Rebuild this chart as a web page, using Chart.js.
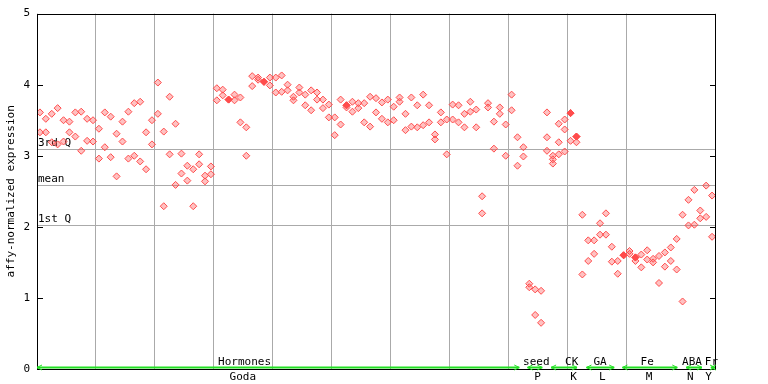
<!DOCTYPE html>
<html>
<head>
<meta charset="utf-8">
<script src="https://cdn.jsdelivr.net/npm/chart.js@4/dist/chart.umd.min.js"></script>
<style>
  html, body { margin: 0; padding: 0; background: #fff; }
  #wrap { width: 768px; height: 384px; }
</style>
</head>
<body>
<div id="wrap"><canvas id="expr" width="768" height="384"></canvas></div>
<script>
// values per sample column (replicates); rep3 only where a third point shows
const rep1 = [3.61, 3.52, 3.59, 3.67, 3.50, 3.48, 3.61, 3.62, 3.52, 3.50,
  3.38, 3.61, 3.55, 3.31, 3.48, 3.62, 3.74, 3.76, 3.33, 3.50,
  4.03, 3.34, 3.83, 3.45, 3.03, 2.86, 2.81, 3.02, 2.72, 2.85,
  3.95, 3.93, 3.79, 3.86, 3.82, 3.40, 4.12, 4.10, 4.04, 4.10,
  4.10, 4.13, 4.00, 3.83, 3.96, 3.86, 3.92, 3.89, 3.79, 3.72,
  3.54, 3.79, 3.71, 3.76, 3.74, 3.74, 3.83, 3.81, 3.75, 3.79,
  3.69, 3.82, 3.59, 3.82, 3.71, 3.86, 3.71, 3.30, 3.61, 3.51,
  3.72, 3.71, 3.59, 3.76, 3.65, 2.43, 3.74, 3.48, 3.68, 3.44,
  3.86, 3.26, 3.12, 1.20, 1.12, 1.10, 3.61, 3.00, 3.45, 3.51,
  3.60, 3.27, 2.17, 1.81, 1.81, 2.05, 2.19, 1.72, 1.52, 1.60,
  1.66, 1.57, 1.61, 1.67, 1.55, 1.59, 1.64, 1.71, 1.83, 2.17,
  2.38, 2.52, 2.23, 2.58, 2.44];
const rep2 = [3.33, 3.33, 3.19, 3.16, 3.20, 3.33, 3.27, 3.07, 3.21, 3.20,
  2.96, 3.12, 2.98, 2.71, 3.20, 2.96, 3.00, 2.92, 2.81, 3.16,
  3.59, 2.29, 3.02, 2.59, 2.75, 2.65, 2.29, 2.88, 2.64, 2.74,
  3.78, 3.85, 3.79, 3.78, 3.47, 3.00, 3.98, 4.07, 4.04, 3.99,
  3.89, 3.90, 3.92, 3.78, 3.89, 3.71, 3.64, 3.79, 3.67, 3.54,
  3.29, 3.44, 3.71, 3.62, 3.67, 3.47, 3.41, 3.61, 3.52, 3.47,
  3.50, 3.76, 3.36, 3.41, 3.40, 3.43, 3.47, 3.23, 3.47, 3.02,
  3.51, 3.47, 3.40, 3.62, 3.40, 2.19, 3.68, 3.10, 3.59, 3.00,
  3.64, 2.86, 2.99, 1.15, 0.76, 0.65, 3.26, 2.95, 3.19, 3.37,
  3.21, 3.19, 1.33, 1.52, 1.62, 1.89, 1.89, 1.51, 1.34, 1.60,
  1.62, 1.52, 1.43, 1.54, 1.50, 1.21, 1.44, 1.52, 1.40, 0.95,
  2.02, 2.03, 2.12, 2.14, 1.86];
const rep3 = { 52: 3.68, 86: 3.07, 87: 2.89, 88: 3.02, 89: 3.06, 90: 3.60, 91: 3.27, 101: 1.57 };

// reference lines
const refValues = [3.10, 2.585, 2.03];
const refLabels = ['3rd Q', 'mean', '1st Q'];

// experiment groups along the bottom (in sample column units)
const groupNames = ['Hormones', 'seed', 'CK', 'GA', 'Fe', 'ABA', 'Fr'];
const groupSubs = ['Goda', 'P', 'K', 'L', 'M', 'N', 'Y'];
const groupFrom = [0, 83.2, 87.2, 93.2, 99.3, 110.1, 114.3];
const groupTo = [81.8, 85.7, 91.6, 97.9, 108.6, 112.8, 115];
const groupNameAt = [35.2, 84.7, 90.7, 95.5, 103.5, 111.1, 114.4];
const groupSubAt = [34.9, 84.9, 91.0, 95.9, 103.8, 110.8, 113.9];

const nCols = rep1.length;
const points = [];
for (let i = 0; i < nCols; i++) {
  points.push({ x: i + 0.5, y: rep1[i] });
  points.push({ x: i + 0.5, y: rep2[i] });
  if (rep3[i] !== undefined) points.push({ x: i + 0.5, y: rep3[i] });
}

const FONT = '11px "DejaVu Sans Mono"';
const RED = '#ff4c4c';

// two replicates on the same spot look solid in the original
function isDouble(p) {
  return points.filter(q => q.x === p.x && q.y === p.y).length > 1;
}

const decor = {
  id: 'decor',
  beforeDatasetsDraw(chart) {
    const { ctx, chartArea: a, scales: { y } } = chart;
    ctx.save();
    ctx.strokeStyle = '#aaaaaa';
    ctx.lineWidth = 1;
    ctx.font = FONT;
    ctx.fillStyle = '#000';
    ctx.textBaseline = 'bottom';
    refValues.forEach((v, i) => {
      const py = Math.round(y.getPixelForValue(v)) + 0.5;
      ctx.beginPath();
      ctx.moveTo(a.left, py);
      ctx.lineTo(a.right, py);
      ctx.stroke();
      ctx.fillText(refLabels[i], a.left + 1, py - 1);
    });
    ctx.restore();
  },
  afterDraw(chart) {
    const { ctx, chartArea: a, scales: { x, y } } = chart;
    ctx.save();
    // frame
    ctx.strokeStyle = '#000';
    ctx.lineWidth = 1;
    ctx.strokeRect(Math.round(a.left) + 0.5, Math.round(a.top) + 0.5,
      Math.round(a.right - a.left), Math.round(a.bottom - a.top));
    // inward ticks on both sides
    for (let v = 0; v <= 5; v++) {
      const py = Math.round(y.getPixelForValue(v)) + 0.5;
      ctx.beginPath();
      ctx.moveTo(a.left, py); ctx.lineTo(a.left + 6, py);
      ctx.moveTo(a.right, py); ctx.lineTo(a.right - 5, py);
      ctx.stroke();
    }
    // y title
    ctx.fillStyle = '#000';
    ctx.font = FONT;
    ctx.translate(11, (a.top + a.bottom) / 2);
    ctx.rotate(-Math.PI / 2);
    ctx.textAlign = 'center';
    ctx.textBaseline = 'middle';
    ctx.fillText('affy-normalized expression', 0, 0);
    ctx.setTransform(1, 0, 0, 1, 0, 0);

    // groups: green double arrows with labels above and below
    const gy = Math.round(a.bottom) - 1.5;
    groupNames.forEach((name, i) => {
      const x0 = x.getPixelForValue(groupFrom[i]);
      const x1 = x.getPixelForValue(groupTo[i]);
      ctx.strokeStyle = '#22e022';
      ctx.lineWidth = 2;
      ctx.beginPath();
      ctx.moveTo(x0, gy); ctx.lineTo(x1, gy);
      ctx.stroke();
      ctx.lineWidth = 1;
      ctx.beginPath();
      ctx.moveTo(x0 + 5, gy - 2.5); ctx.lineTo(x0, gy); ctx.lineTo(x0 + 5, gy + 2.5);
      ctx.moveTo(x1 - 5, gy - 2.5); ctx.lineTo(x1, gy); ctx.lineTo(x1 - 5, gy + 2.5);
      ctx.stroke();
      ctx.textAlign = 'center';
      ctx.textBaseline = 'alphabetic';
      ctx.fillText(name, x.getPixelForValue(groupNameAt[i]), a.bottom - 4);
      ctx.fillText(groupSubs[i], x.getPixelForValue(groupSubAt[i]), a.bottom + 11);
    });
    ctx.restore();
  }
};

new Chart(document.getElementById('expr'), {
  type: 'scatter',
  data: {
    datasets: [{
      data: points,
      pointStyle: 'rectRot',
      pointRadius: 3.5,
      pointBorderWidth: 1,
      pointBorderColor: RED,
      pointBackgroundColor: ctx => (ctx.raw && isDouble(ctx.raw)) ? RED : 'rgba(255,76,76,0.35)'
    }]
  },
  options: {
    responsive: false,
    devicePixelRatio: 1,
    animation: false,
    layout: { padding: { top: 13, right: 53, left: 0, bottom: 0 } },
    plugins: { legend: { display: false }, tooltip: { enabled: false } },
    scales: {
      x: {
        type: 'linear',
        min: 0,
        max: nCols,
        afterFit: s => { s.height = 15; },
        ticks: { display: false, stepSize: 10 },
        grid: { color: '#aaaaaa', lineWidth: 1, drawTicks: false },
        border: { display: false }
      },
      y: {
        min: 0,
        max: 5,
        afterFit: s => { s.width = 37; },
        ticks: { stepSize: 1, padding: 7, color: '#000', font: { family: 'DejaVu Sans Mono', size: 11 } },
        grid: { display: false, drawTicks: false },
        border: { display: false }
      }
    }
  },
  plugins: [decor]
});
</script>
</body>
</html>
